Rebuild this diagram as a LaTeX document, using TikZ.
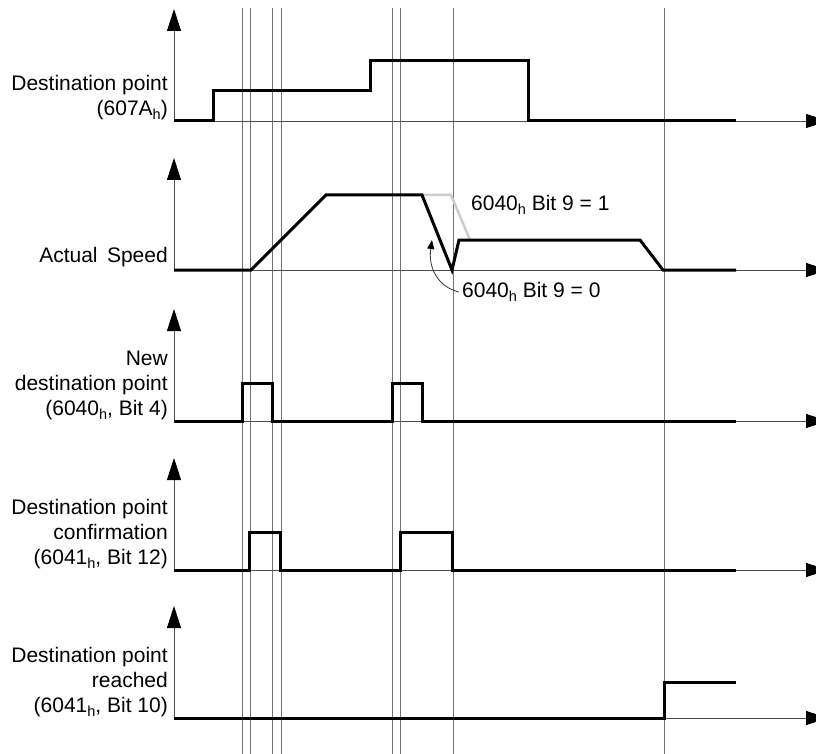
\documentclass[tikz,border=0pt]{standalone}
\usepackage{fontspec}
\setmainfont{Liberation Sans}
\usetikzlibrary{arrows.meta}
\newcommand{\hx}{\raisebox{-4.5pt}{\fontsize{14.5}{14.5}\selectfont h}}
\tikzset{
  axis/.style={black!70,line width=0.8pt,-{Triangle[width=14pt,length=22pt,color=black]}},
  guide/.style={black!55,line width=0.8pt},
  signal/.style={line width=3pt,line join=miter},
  sigtext/.style={anchor=south east,inner sep=0pt,align=right},
}
\begin{document}
\begin{tikzpicture}[x=1pt,y=-1pt,font=\fontsize{21}{25}\selectfont]
\useasboundingbox (0,0) rectangle (816,754);
\clip (0,0) rectangle (816,754);
% guide lines
\foreach \gx in {242,250,272,281,392,400,453,664}
  \draw[guide] (\gx,8) -- (\gx,754);
% axes
\foreach \by in {121,270,421,570,718}{
  \draw[axis] (174,\by) -- (174,\by-112);
  \draw[axis] (174,\by) -- (828,\by);
}
% signals
\draw[signal]
(174,121) -- (213,121) -- (213,91) -- (370,91) -- (370,61) -- (528,61) -- (528,121) -- (736,121);
\draw[line width=2.5pt,black!20] (422,195) -- (451,195) -- (470,240);
\draw[signal]
(174,270) -- (251,270) -- (326,195) -- (422,195) -- (452,270) -- (459,240) -- (640,240) -- (663,270) -- (736,270);
\draw[signal]
(174,421) -- (242,421) -- (242,383) -- (272,383) -- (272,421) -- (392,421) -- (392,383) -- (422,383) -- (422,421) -- (736,421);
\draw[signal]
(174,570) -- (249,570) -- (249,532) -- (280,532) -- (280,570) -- (400,570) -- (400,532) -- (452,532) -- (452,570) -- (736,570);
\draw[signal]
(174,718) -- (664,718) -- (664,682) -- (736,682);
% labels
\node[sigtext] (destpt) at (168,120) {Destination point\\(607A\hx)};
\node[sigtext] (speed) at (168,267) {Actual\hspace{0.45em}Speed};
\node[sigtext] (newdest) at (168,420) {New\\destination point\\(6040\hx, Bit 4)};
\node[sigtext] (confirm) at (168,569) {Destination point\\confirmation\\(6041\hx, Bit 12)};
\node[sigtext] (reached) at (168,717) {Destination point\\reached\\(6041\hx, Bit 10)};
\node[anchor=west,inner sep=0pt] (bitone) at (471,205) {6040\hx{} Bit 9 = 1};
\node[anchor=west,inner sep=0pt] (bitzero) at (462,292) {6040\hx{} Bit 9 = 0};
\draw[black!80,line width=0.8pt,-{Triangle[width=7pt,length=9pt,color=black]}]
([xshift=-3pt]bitzero.west) .. controls (438,287) and (428,268) .. (432,240);
\end{tikzpicture}
\end{document}
